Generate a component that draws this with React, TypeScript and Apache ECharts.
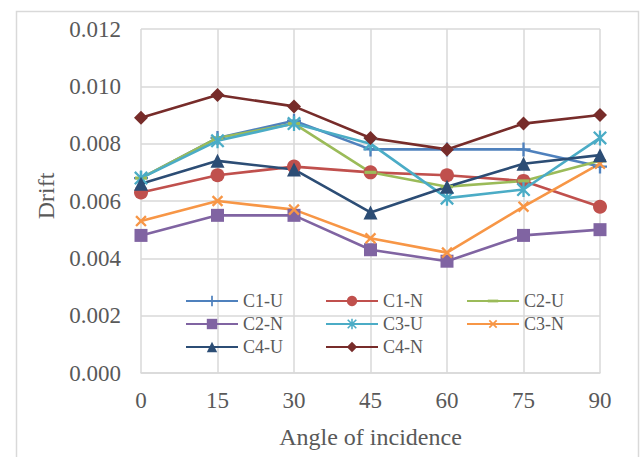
import React, { useEffect, useRef } from "react";
import * as echarts from "echarts";

const categories = ["0", "15", "30", "45", "60", "75", "90"];
const seriesNames = ["C1-U", "C1-N", "C2-U", "C2-N", "C3-U", "C3-N", "C4-U", "C4-N"];
const c1u = [0.0068, 0.0082, 0.0088, 0.0078, 0.0078, 0.0078, 0.0072];
const c1n = [0.0063, 0.0069, 0.0072, 0.007, 0.0069, 0.0067, 0.0058];
const c2u = [0.0068, 0.0082, 0.0087, 0.007, 0.0065, 0.0067, 0.0074];
const c2n = [0.0048, 0.0055, 0.0055, 0.0043, 0.0039, 0.0048, 0.005];
const c3u = [0.0068, 0.0081, 0.0087, 0.008, 0.0061, 0.0064, 0.0082];
const c3n = [0.0053, 0.006, 0.0057, 0.0047, 0.0042, 0.0058, 0.0073];
const c4u = [0.0066, 0.0074, 0.0071, 0.0056, 0.0065, 0.0073, 0.0076];
const c4n = [0.0089, 0.0097, 0.0093, 0.0082, 0.0078, 0.0087, 0.009];
const seriesValues = [c1u, c1n, c2u, c2n, c3u, c3n, c4u, c4n];
const colors = ["#4F81BD", "#C0504D", "#9BBB59", "#8064A2", "#4BACC6", "#F79646", "#2C4D75", "#772C2A"];

const PLUS = "path://M-1,-6H1V-1H6V1H1V6H-1V1H-6V-1H-1Z";
const STAR =
  "path://M-6,-6M6,6M-0.9,-6H0.9V6H-0.9Z" +
  "M-4.3,-5.6L5.6,4.3L4.3,5.6L-5.6,-4.3Z" +
  "M-5.6,4.3L4.3,-5.6L5.6,-4.3L-4.3,5.6Z";
const DASH = "path://M-6,-6M6,6M-6,-1.6H6V1.6H-6Z";
const symbols = [PLUS, "circle", DASH, "rect", STAR, PLUS, "triangle", "diamond"];
const symbolSizes = [14, 14, 12, 13, 15, 14, 14, 14];
const symbolRotates = [0, 0, 0, 0, 0, 45, 0, 0];

const FONT = "'Liberation Serif', 'Times New Roman', serif";
const TXT = "#595959";
const GRID = "#D9D9D9";

export default function App() {
  const ref = useRef<HTMLDivElement>(null);
  useEffect(() => {
    if (!ref.current) return;
    const chart = echarts.init(ref.current, undefined, { renderer: "svg" });
    const legendCols = [
      { left: 185, names: ["C1-U", "C2-N", "C4-U"] },
      { left: 325, names: ["C1-N", "C3-U", "C4-N"] },
      { left: 466, names: ["C2-U", "C3-N"] },
    ];
    chart.setOption({
      animation: false,
      backgroundColor: "#fff",
      grid: { left: 141, right: 43, top: 29, bottom: 84 },
      graphic: [
        {
          type: "rect",
          shape: { x: 16.5, y: 11.5, width: 622, height: 470 },
          style: { fill: "none", stroke: GRID, lineWidth: 1.5 },
          silent: true,
        },
        {
          type: "text",
          x: 46,
          y: 196,
          rotation: Math.PI / 2,
          style: {
            text: "Drift",
            font: `24px ${FONT}`,
            fill: TXT,
            textAlign: "center",
            textVerticalAlign: "middle",
          },
        },
      ],
      legend: legendCols.map((c) => ({
        orient: "vertical",
        left: c.left,
        top: 292,
        padding: 0,
        itemWidth: 52,
        itemHeight: 13,
        itemGap: 5,
        data: c.names,
        textStyle: { fontFamily: FONT, fontSize: 18, color: TXT, lineHeight: 18, padding: [0, 0, 0, 0] },
      })),
      xAxis: {
        type: "category",
        data: categories,
        boundaryGap: false,
        axisLine: { show: true, lineStyle: { color: GRID, width: 1.5 } },
        axisTick: { show: false },
        splitLine: { show: true, lineStyle: { color: GRID, width: 1.5 } },
        axisLabel: { fontFamily: FONT, fontSize: 23, color: TXT, margin: 16 },
        name: "Angle of incidence",
        nameLocation: "middle",
        nameGap: 52,
        nameTextStyle: { fontFamily: FONT, fontSize: 24, color: TXT },
      },
      yAxis: {
        type: "value",
        min: 0,
        max: 0.012,
        interval: 0.002,
        axisLine: { show: false },
        axisTick: { show: false },
        splitLine: { show: true, lineStyle: { color: GRID, width: 1.5 } },
        axisLabel: {
          fontFamily: FONT,
          fontSize: 23,
          color: TXT,
          margin: 20,
          formatter: (v: number) => v.toFixed(3),
        },
      },
      series: seriesNames.map((name, i) => ({
        name,
        type: "line",
        data: seriesValues[i],
        symbol: symbols[i],
        symbolSize: symbolSizes[i],
        symbolRotate: symbolRotates[i],
        symbolKeepAspect: true,
        showAllSymbol: true,
        color: colors[i],
        lineStyle: { color: colors[i], width: 2.6 },
        itemStyle: { color: colors[i] },
      })),
    });
    return () => chart.dispose();
  }, []);
  return (
    <div
      ref={ref}
      style={{ position: "fixed", left: 0, top: 0, width: 643, height: 457 }}
    />
  );
}
